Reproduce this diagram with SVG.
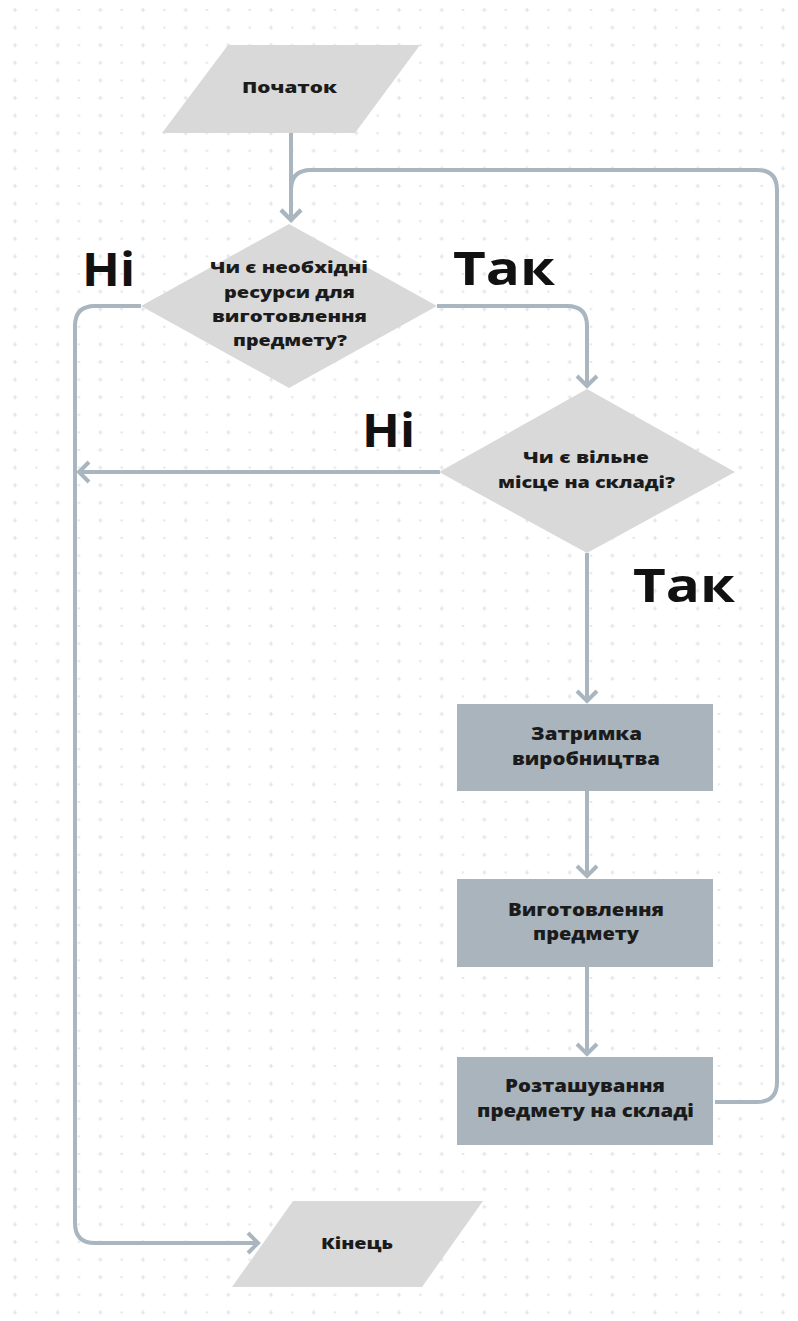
<svg xmlns="http://www.w3.org/2000/svg" width="798" height="1321" viewBox="0 0 798 1321">
  <style>
    .t { font-family: "Open Sans", "Liberation Sans", sans-serif; font-weight: 800; fill: #1b1b1b; text-anchor: middle; }
    .s16 { font-size: 16px; }
    .s17 { font-size: 17px; }
    .big { font-size: 46px; font-weight: bold; fill: #111; }
    .light { fill: #d9d9d9; }
    .box { fill: #a9b4bc; }
    .conn { fill: none; stroke: #a9b5bf; stroke-width: 4; }
  </style>
  <defs>
    <pattern id="grid" patternUnits="userSpaceOnUse" x="15" y="10" width="42.67" height="17.6">
      <path d="M-2.2,0 H2.2 M0,-2.2 V2.2" stroke="#dde2e7" stroke-width="1.2"/>
      <path d="M42.67,-2.2 V2.2 M40.47,0 H44.87" stroke="#dde2e7" stroke-width="1.2"/>
      <path d="M0,15.4 V19.8 M-2.2,17.6 H2.2 M42.67,15.4 V19.8 M40.47,17.6 H44.87" stroke="#dde2e7" stroke-width="1.2"/>
      <circle cx="21.33" cy="0" r="1.2" fill="#e0e4e8"/>
      <circle cx="21.33" cy="17.6" r="1.2" fill="#e0e4e8"/>
    </pattern>
    <marker id="arr" markerUnits="userSpaceOnUse" viewBox="-16 -12 20 24" markerWidth="20" markerHeight="24" refX="-1" refY="0" orient="auto">
      <path d="M-12,-10 L-2,0 L-12,10" fill="none" stroke="#a9b5bf" stroke-width="4"/>
    </marker>
  </defs>

  <rect width="798" height="1321" fill="#ffffff"/>
  <rect width="798" height="1321" fill="url(#grid)"/>

  <g id="connectors">
    <path class="conn" d="M291,133 V221" marker-end="url(#arr)"/>
    <path class="conn" d="M715,1102 H757 Q777,1102 777,1082 V190 Q777,170 757,170 H311 Q291,170 291,190 V221" marker-end="url(#arr)"/>
    <path class="conn" d="M141,306 H95 Q75,306 75,326 V1223 Q75,1243 95,1243 H259" marker-end="url(#arr)"/>
    <path class="conn" d="M437,306 H567 Q587,306 587,326 V387" marker-end="url(#arr)"/>
    <path class="conn" d="M440,472 H78" marker-end="url(#arr)"/>
    <path class="conn" d="M587,553 V702" marker-end="url(#arr)"/>
    <path class="conn" d="M587,791 V877" marker-end="url(#arr)"/>
    <path class="conn" d="M587,967 V1055" marker-end="url(#arr)"/>
  </g>

  <g id="start">
    <polygon class="light" points="228,45 420,45 355,133 162,133"/>
    <text class="t s16" x="289.5" y="93" textLength="95" lengthAdjust="spacingAndGlyphs">Початок</text>
  </g>

  <g id="decision1">
    <polygon class="light" points="289,224 437,306 289,388 141,306"/>
    <text class="t s16" x="289" y="273" textLength="158" lengthAdjust="spacingAndGlyphs">Чи є необхідні</text>
    <text class="t s16" x="289.5" y="297.5" textLength="131" lengthAdjust="spacingAndGlyphs">ресурси для</text>
    <text class="t s16" x="289.5" y="322" textLength="155" lengthAdjust="spacingAndGlyphs">виготовлення</text>
    <text class="t s16" x="290" y="346" textLength="114" lengthAdjust="spacingAndGlyphs">предмету?</text>
  </g>

  <g id="decision2">
    <polygon class="light" points="587,389 735,472 587,553 439,472"/>
    <text class="t s16" x="586" y="463" textLength="126" lengthAdjust="spacingAndGlyphs">Чи є вільне</text>
    <text class="t s16" x="586.5" y="487.5" textLength="177" lengthAdjust="spacingAndGlyphs">місце на складі?</text>
  </g>

  <g id="delay">
    <rect class="box" x="457" y="704" width="256" height="87"/>
    <text class="t s17" x="586.5" y="740" textLength="111" lengthAdjust="spacingAndGlyphs">Затримка</text>
    <text class="t s17" x="586" y="764.5" textLength="148" lengthAdjust="spacingAndGlyphs">виробництва</text>
  </g>

  <g id="make">
    <rect class="box" x="457" y="879" width="256" height="88"/>
    <text class="t s17" x="586" y="916" textLength="156" lengthAdjust="spacingAndGlyphs">Виготовлення</text>
    <text class="t s17" x="586" y="940" textLength="106" lengthAdjust="spacingAndGlyphs">предмету</text>
  </g>

  <g id="place">
    <rect class="box" x="457" y="1057" width="256" height="88"/>
    <text class="t s17" x="585" y="1092" textLength="160" lengthAdjust="spacingAndGlyphs">Розташування</text>
    <text class="t s17" x="585.5" y="1117" textLength="217" lengthAdjust="spacingAndGlyphs">предмету на складі</text>
  </g>

  <g id="end">
    <polygon class="light" points="293,1201 483,1201 422,1287 232,1287"/>
    <text class="t s16" x="357" y="1249" textLength="72" lengthAdjust="spacingAndGlyphs">Кінець</text>
  </g>

  <g id="labels">
    <text class="t big" x="108.5" y="286" textLength="53" lengthAdjust="spacingAndGlyphs">Ні</text>
    <text class="t big" x="504" y="285" textLength="102" lengthAdjust="spacingAndGlyphs">Так</text>
    <text class="t big" x="388.5" y="447" textLength="53" lengthAdjust="spacingAndGlyphs">Ні</text>
    <text class="t big" x="684" y="602" textLength="102" lengthAdjust="spacingAndGlyphs">Так</text>
  </g>
</svg>
